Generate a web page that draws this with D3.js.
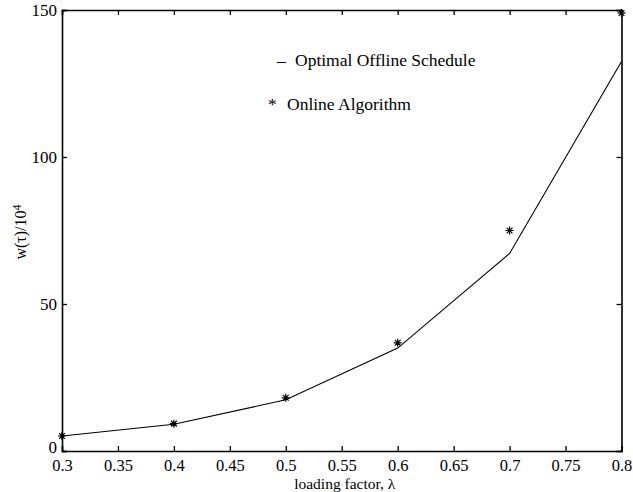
<!DOCTYPE html>
<html>
<head>
<meta charset="utf-8">
<script src="https://cdn.jsdelivr.net/npm/d3@7"></script>
<style>
  body { margin: 0; background: #fff; }
  svg text { font-family: "Liberation Serif", "Times New Roman", Times, serif; fill: #000; }
</style>
</head>
<body>
<svg id="chart" width="633" height="492"></svg>
<script>
// Loading factor values (x) and the two series
const loadingFactor = [0.3, 0.4, 0.5, 0.6, 0.7, 0.8];
const optimalOffline = [5.1, 9.1, 17.4, 35.0, 67.2, 132.5];
const onlineAlgorithm = [5.1, 9.3, 18.1, 36.8, 75.0, 149.0];

const xTicks = [0.3, 0.35, 0.4, 0.45, 0.5, 0.55, 0.6, 0.65, 0.7, 0.75, 0.8];
const yTicks = [0, 50, 100, 150];

const serif = "'Liberation Serif', 'Times New Roman', Times, serif";
const svg = d3.select("#chart");
const plotLeft = 62, plotRight = 621.5, plotTop = 10, plotBottom = 451;

const x = d3.scaleLinear().domain([0.3, 0.8]).range([plotLeft, plotRight]);
const y = d3.scaleLinear().domain([0, 150]).range([plotBottom, plotTop]);

const tickLen = 5;
const fmtX = d => String(+d.toFixed(2));

// Bottom axis with inward ticks
const gx = svg.append("g").attr("transform", `translate(0,${plotBottom})`)
  .call(d3.axisBottom(x).tickValues(xTicks).tickSize(-tickLen).tickPadding(8).tickFormat(fmtX));
// Top axis: ticks only
const gxt = svg.append("g").attr("transform", `translate(0,${plotTop})`)
  .call(d3.axisTop(x).tickValues(xTicks).tickSize(-tickLen).tickFormat(""));
// Left axis with inward ticks
const gy = svg.append("g").attr("transform", `translate(${plotLeft},0)`)
  .call(d3.axisLeft(y).tickValues(yTicks).tickSize(-tickLen).tickPadding(5));
// Right axis: ticks only
const gyr = svg.append("g").attr("transform", `translate(${plotRight},0)`)
  .call(d3.axisRight(y).tickValues(yTicks).tickSize(-tickLen).tickFormat(""));

[gx, gxt, gy, gyr].forEach(g => {
  g.attr("font-family", serif);
  g.select(".domain").attr("stroke", "#000").attr("stroke-width", 1.6);
  g.selectAll(".tick line").attr("stroke", "#000").attr("stroke-width", 1.3);
  g.selectAll("text").attr("font-size", 17).style("font-family", serif);
});
gx.selectAll(".tick text").attr("dy", "0.71em").attr("font-size", 16.5);
// lift the zero label a little so it clears the first x label
gy.selectAll(".tick text").filter(d => d === 0).attr("dy", "0.1em");

// Optimal offline schedule line
const line = d3.line().x((d, i) => x(loadingFactor[i])).y(d => y(d));
svg.append("path")
  .datum(optimalOffline)
  .attr("d", line)
  .attr("fill", "none")
  .attr("stroke", "#000")
  .attr("stroke-width", 1.1);

// Online algorithm: asterisk markers (plus + cross)
function asterisk(cx, cy, r) {
  const d = r * 0.72;
  return `M${cx - r},${cy}L${cx + r},${cy}M${cx},${cy - r}L${cx},${cy + r}` +
         `M${cx - d},${cy - d}L${cx + d},${cy + d}M${cx - d},${cy + d}L${cx + d},${cy - d}`;
}
svg.append("g").selectAll("path")
  .data(onlineAlgorithm)
  .join("path")
  .attr("d", (d, i) => asterisk(x(loadingFactor[i]), y(d), 4))
  .attr("stroke", "#000")
  .attr("stroke-width", 1.2)
  .attr("fill", "none");

// Legend entries: symbol glyph, then label
const legend = [
  { sym: "–", label: "Optimal Offline Schedule", sx: 277, tx: 295, y: 66 },
  { sym: "*", label: "Online Algorithm", sx: 268, tx: 287, y: 110 }
];
legend.forEach(e => {
  svg.append("text").attr("x", e.sx).attr("y", e.y).attr("font-size", 17.5)
    .style("font-family", serif).text(e.sym);
  svg.append("text").attr("x", e.tx).attr("y", e.y).attr("font-size", 17.5)
    .style("font-family", serif).text(e.label);
});

// Axis titles
svg.append("text")
  .attr("x", (plotLeft + plotRight) / 2 + 3).attr("y", 488.5)
  .attr("text-anchor", "middle").attr("font-size", 15.5)
  .style("font-family", serif)
  .text("loading factor, λ");

const yl = svg.append("text")
  .attr("transform", "translate(26,232) rotate(-90)")
  .attr("text-anchor", "middle").attr("font-size", 16)
  .style("font-family", serif);
yl.append("tspan").text("w(τ)/10");
yl.append("tspan").attr("dy", "-0.45em").attr("font-size", 12).text("4");
</script>
</body>
</html>
